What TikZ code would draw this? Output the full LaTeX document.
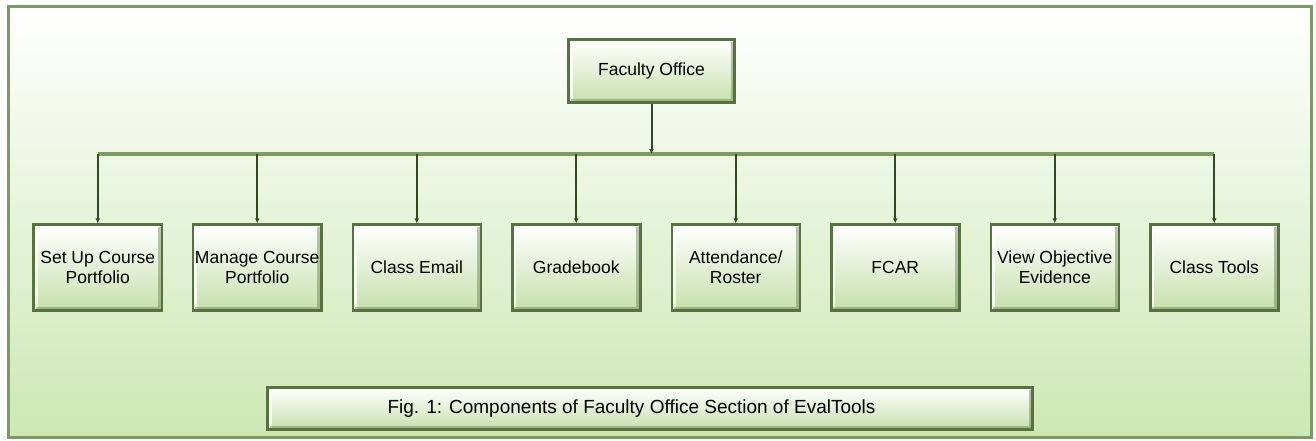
\documentclass[tikz,border=0pt]{standalone}
\usepackage{fontspec}
\setmainfont{Liberation Sans}
\usetikzlibrary{arrows.meta}
\definecolor{framegreen}{HTML}{7B9964}
\definecolor{bggreen}{HTML}{CCE8B4}
\definecolor{boxgreen}{HTML}{C6E0AC}
\definecolor{boxedge}{HTML}{56723F}
\definecolor{busgreen}{HTML}{7C9C62}
\definecolor{linkgreen}{HTML}{2E4A1E}
\tikzset{
  comp/.style={draw=boxedge, line width=2.5pt, top color=white, bottom color=boxgreen,
    minimum width=128pt, minimum height=86pt, align=center, inner sep=1pt,
    font=\fontsize{17.5}{20}\selectfont,
    path picture={
      \draw[white, line width=4pt, opacity=.8]
        ([shift={(2pt,2pt)}]path picture bounding box.south west) |- ([shift={(-2pt,-2pt)}]path picture bounding box.north east);
      \draw[boxedge, line width=4pt, opacity=.4]
        ([shift={(-2pt,-2pt)}]path picture bounding box.north east) |- ([shift={(2pt,2pt)}]path picture bounding box.south west);
    }},
  link/.style={-{Latex[length=5pt,width=5pt]}, linkgreen, line width=2pt},
  bus/.style={busgreen, line width=3.5pt},
}
\begin{document}
\begin{tikzpicture}[x=1pt,y=-1pt,ampersand replacement=\&]
    \useasboundingbox (0,0) rectangle (1316,440);
    \draw[framegreen, line width=3pt, top color=white, bottom color=bggreen] (8,6) rectangle (1311,437);
    \node[comp, minimum width=166pt, minimum height=63pt] (fo) at (651.5,71) {Faculty Office};
    \matrix (row) [column sep=29pt] at (656,267.5)
    {
    \node[comp](setup){Set Up Course\\Portfolio}; \& \node[comp](manage){Manage Course\\Portfolio}; \& \node[comp](email){Class Email}; \& \node[comp](grades){Gradebook}; \&
    \node[comp](roster){Attendance/\\Roster}; \& \node[comp](fcar){FCAR}; \& \node[comp](evidence){View Objective\\Evidence}; \& \node[comp](tools){Class Tools}; \\
    };
    \coordinate (bus) at (656,154);
    \draw[bus] (setup.north |- bus) -- (tools.north |- bus);
    \draw[link] (fo) -- (fo |- bus);
    \foreach \n in {setup,manage,email,grades,roster,fcar,evidence,tools}
        \draw[link] (\n.north |- bus) -- (\n);
    \node[comp, minimum width=765pt, minimum height=42pt, font=\fontsize{19}{22}\selectfont] (cap) at (650,408.5) {Fig. 1: Components of Faculty Office Section of EvalTools\hspace{37pt}};
\end{tikzpicture}
\end{document}
